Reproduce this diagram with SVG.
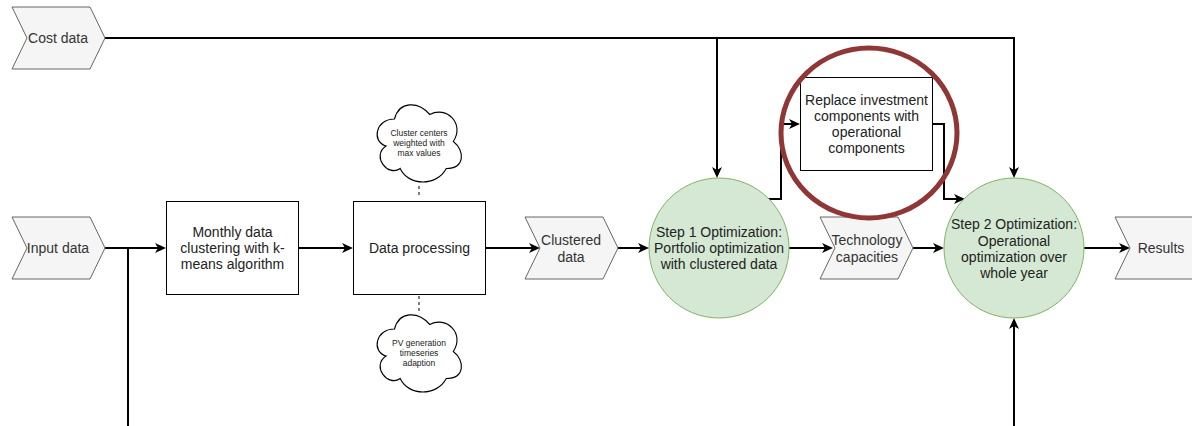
<svg xmlns="http://www.w3.org/2000/svg" width="1192" height="426" viewBox="0 0 1192 426">
<style>
text{font-family:"Liberation Sans",Arial,sans-serif;text-anchor:middle;dominant-baseline:central}
.t{font-size:14px;fill:#222}
.tc{font-size:14px;fill:#333}
.ts{font-size:8.5px;fill:#222}
.chev{fill:#f5f5f5;stroke:#666;stroke-width:1}
.box{fill:#fff;stroke:#000;stroke-width:1}
.circ{fill:#d5e8d4;stroke:#82b366;stroke-width:1}
.cloud{fill:#fff;stroke:#000;stroke-width:1;vector-effect:non-scaling-stroke}
.e{fill:none;stroke:#000;stroke-width:2}
.ea{fill:none;stroke:#000;stroke-width:2;marker-end:url(#arr)}
.d{fill:none;stroke:#000;stroke-width:1;stroke-dasharray:3 3}
</style>
<defs>
<marker id="arr" markerUnits="userSpaceOnUse" markerWidth="14" markerHeight="12" viewBox="0 0 14 12" refX="9" refY="6" orient="auto">
<path d="M12,6 L1,1 L4,6 L1,11 Z" fill="#000"/>
</marker>
<path id="cloudp" d="M21,18.5 C4.2,18.5 0,37 13.44,40.7 C0,48.84 15.12,66.6 26.04,59.2 C33.6,74 58.8,74 67.2,59.2 C84,59.2 84,44.4 73.5,37 C84,22.2 67.2,7.4 52.5,14.8 C42,3.7 25.2,3.7 21,18.5 Z"/>
</defs>

<g id="connectors">
<path class="ea" d="M105,38 H1014 V175"/>
<path class="ea" d="M717,38 V175"/>
<path class="ea" d="M105,248 H163"/>
<path class="e" d="M128,248 V426"/>
<path class="ea" d="M299,248 H350"/>
<path class="ea" d="M486,248 H537"/>
<path class="ea" d="M617,248 H646"/>
<path class="ea" d="M789,248 H830"/>
<path class="ea" d="M913,248 H941"/>
<path class="ea" d="M1084,248 H1127"/>
<path class="ea" d="M768,199 H781 V124 H797"/>
<path class="ea" d="M933,124 H944 V199 H962"/>
<path class="ea" d="M1014,426 V321"/>
<path class="d" d="M419,186 V196"/>
<path class="d" d="M419,296 V312"/>
</g>

<g id="cost-data">
<polygon class="chev" points="12,7 90,7 105,38 90,69 12,69 27,38"/>
<text class="tc" x="58" y="38">Cost data</text>
</g>

<g id="input-data">
<polygon class="chev" points="12,217 90,217 105,248 90,279 12,279 27,248"/>
<text class="tc" x="58" y="248">Input data</text>
</g>

<g id="monthly-clustering">
<rect class="box" x="166.5" y="201.5" width="132" height="93"/>
<text class="t" x="232.5" y="232">Monthly data</text>
<text class="t" x="232.5" y="248">clustering with k-</text>
<text class="t" x="232.5" y="264">means algorithm</text>
</g>

<g id="data-processing">
<rect class="box" x="353.5" y="201.5" width="132" height="93"/>
<text class="t" x="419.5" y="248">Data processing</text>
</g>

<g id="cloud-cluster-centers">
<use href="#cloudp" class="cloud" transform="translate(371,96.5) scale(1.12,1.216)"/>
<text class="ts" x="419" y="133">Cluster centers</text>
<text class="ts" x="419" y="143">weighted with</text>
<text class="ts" x="419" y="153">max values</text>
</g>

<g id="cloud-pv">
<use href="#cloudp" class="cloud" transform="translate(371,306.5) scale(1.12,1.216)"/>
<text class="ts" x="419" y="343">PV generation</text>
<text class="ts" x="419" y="353">timeseries</text>
<text class="ts" x="419" y="363">adaption</text>
</g>

<g id="clustered-data">
<polygon class="chev" points="525,217 603,217 618,248 603,279 525,279 540,248"/>
<text class="tc" x="571" y="240">Clustered</text>
<text class="tc" x="571" y="257">data</text>
</g>

<g id="step1">
<circle class="circ" cx="719" cy="248" r="70"/>
<text class="t" x="719" y="232">Step 1 Optimization:</text>
<text class="t" x="719" y="248">Portfolio optimization</text>
<text class="t" x="719" y="264">with clustered data</text>
</g>

<g id="replace">
<rect class="box" x="800.5" y="77.5" width="132" height="93"/>
<text class="t" x="866.5" y="100">Replace investment</text>
<text class="t" x="866.5" y="116">components with</text>
<text class="t" x="866.5" y="132">operational</text>
<text class="t" x="866.5" y="148">components</text>
</g>

<g id="technology-capacities">
<polygon class="chev" points="820,217 898,217 913,248 898,279 820,279 835,248"/>
<text class="tc" x="867" y="240">Technology</text>
<text class="tc" x="867" y="257">capacities</text>
</g>

<g id="step2">
<circle class="circ" cx="1014" cy="248" r="70"/>
<text class="t" x="1014" y="224">Step 2 Optimization:</text>
<text class="t" x="1014" y="240.5">Operational</text>
<text class="t" x="1014" y="257">optimization over</text>
<text class="t" x="1014" y="273">whole year</text>
</g>

<g id="results">
<polygon class="chev" points="1115,217 1193,217 1208,248 1193,279 1115,279 1130,248"/>
<text class="tc" x="1161" y="248">Results</text>
</g>

<g id="highlight">
<ellipse cx="869" cy="133" rx="88" ry="85" fill="none" stroke="#8f3636" stroke-width="5"/>
</g>
</svg>
